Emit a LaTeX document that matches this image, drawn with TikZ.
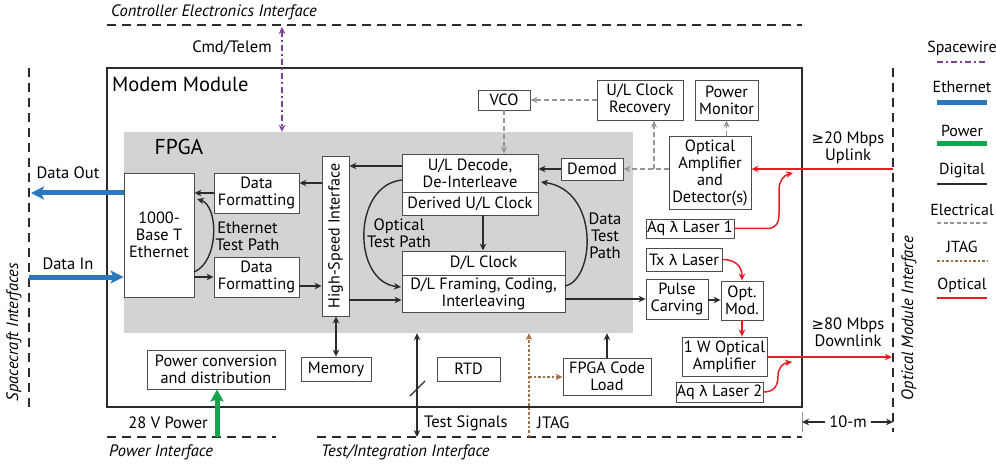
\documentclass[tikz,border=0pt]{standalone}
\usepackage{fontspec}
\setmainfont{PT Sans}
\newfontfamily\symfont[Scale=0.9]{DejaVu Sans}
\usetikzlibrary{arrows.meta,calc}
\newcommand\mylam{{\symfont λ}}
\newcommand\mygeq{{\symfont ≥}}
\definecolor{fpgagray}{HTML}{D1D3D4}
\definecolor{linec}{HTML}{2B2B2B}
\definecolor{boxc}{HTML}{4D4D4D}
\definecolor{ethblue}{HTML}{2B78BE}
\definecolor{pwrgreen}{HTML}{13A54B}
\definecolor{swpurple}{HTML}{7D3F98}
\definecolor{elgray}{HTML}{939598}
\definecolor{jtagbrown}{HTML}{A0714B}
\definecolor{optred}{HTML}{ED1C24}
\tikzset{
  box/.style={draw=boxc, fill=white, line width=0.9pt, inner sep=0pt, align=center,
    font=\fontsize{16.3}{17}\selectfont},
  lbl/.style={inner sep=0pt, align=center, font=\fontsize{16.5}{17}\selectfont},
  lgl/.style={inner sep=0pt, align=center, font=\fontsize{16}{17}\selectfont},
  ilabel/.style={inner sep=0pt, font=\fontsize{16.5}{18}\selectfont\itshape},
  iface/.style={draw=linec, line width=1.3pt, dash pattern=on 9pt off 6pt},
  dig/.style={draw=linec, line width=1.4pt, -{Stealth[length=7pt,width=6.5pt]}},
  digb/.style={draw=linec, line width=1.4pt, {Stealth[length=7pt,width=6.5pt]}-{Stealth[length=7pt,width=6.5pt]}},
  ele/.style={draw=elgray, line width=1.3pt, dash pattern=on 5pt off 3pt, -{Stealth[length=7pt,width=6pt]}},
  jtagl/.style={draw=jtagbrown, line width=1.4pt, dash pattern=on 2.5pt off 2pt, -{Stealth[length=7pt,width=6.5pt]}},
  opt/.style={draw=optred, line width=1.5pt, -{Stealth[length=7pt,width=6.5pt]}},
  swl/.style={draw=swpurple, line width=1.4pt, dash pattern=on 6pt off 3pt on 2pt off 3pt,
    {Stealth[length=7pt,width=6.5pt]}-{Stealth[length=7pt,width=6.5pt]}},
  ethl/.style={draw=ethblue, line width=5pt, -{Stealth[length=13pt,width=13pt,inset=3pt]}},
  pwrl/.style={draw=pwrgreen, line width=5pt, -{Stealth[length=12pt,width=13pt,inset=2pt]}},
}
\begin{document}
\begin{tikzpicture}[x=1pt,y=-1pt]
\useasboundingbox (0,0) rectangle (996,465);

% ---------- interfaces ----------
\coordinate (ceL) at (107,25); \coordinate (ceR) at (802,25);
\draw[iface] (ceL) -- (ceR);
\node[ilabel, anchor=west] (celbl) at (111,12) {Controller Electronics Interface};
\coordinate (scT) at (29,68); \coordinate (scB) at (29,407);
\draw[iface] (scT) -- (scB);
\node[ilabel, rotate=90] (sclbl) at (14,332) {Spacecraft Interfaces};
\coordinate (omT) at (893,68); \coordinate (omB) at (893,432);
\draw[iface] (omT) -- (omB);
\node[ilabel, rotate=90] (omlbl) at (909,318) {Optical Module Interface};
\coordinate (piL) at (107,437); \coordinate (piR) at (276,437);
\draw[iface] (piL) -- (piR);
\node[ilabel, anchor=west] (pilbl) at (109,452) {Power Interface};
\coordinate (tiL) at (317,437); \coordinate (tiR) at (802,437);
\draw[iface] (tiL) -- (tiR);
\node[ilabel, anchor=west] (tilbl) at (321,452) {Test/Integration Interface};

% ---------- modem + fpga ----------
\node[draw=linec, line width=1.8pt, minimum width=695pt, minimum height=339pt, inner sep=0pt] (mm) at (454.5,237.5) {};
\node[anchor=west, inner sep=0pt, font=\fontsize{20.5}{22}\selectfont] (mmlbl) at (112,84) {Modem Module};
\node[fill=fpgagray, minimum width=509pt, minimum height=201pt, inner sep=0pt] (fpga) at (378.5,232.5) {};
\node[inner sep=0pt, font=\fontsize{21.5}{23}\selectfont] (fpgalbl) at (179,147) {FPGA};

% ---------- boxes ----------
\node[box, minimum width=70pt, minimum height=124pt] (eth) at (159,235) {1000-\\Base T\\Ethernet};
\node[box, minimum width=85pt, minimum height=40pt] (df1) at (256.5,193) {Data\\Formatting};
\node[box, minimum width=85pt, minimum height=40pt] (df2) at (256.5,277) {Data\\Formatting};
\node[box, minimum width=27pt, minimum height=160pt] (hsi) at (335.5,236) {\rotatebox{90}{\fontsize{16}{17}\selectfont High-Speed Interface}};
\node[box, minimum width=136pt, minimum height=38pt] (uld) at (470,173) {U/L Decode,\\De-Interleave};
\node[box, minimum width=136pt, minimum height=23pt] (ulc) at (470,203.5) {Derived U/L Clock};
\node[box, minimum width=163pt, minimum height=24pt] (dlc) at (483.5,263) {D/L Clock};
\node[box, minimum width=163pt, minimum height=37pt] (dlf) at (483.5,293.5) {D/L Framing, Coding,\\Interleaving};
\node[box, minimum width=62pt, minimum height=22pt] (demod) at (592,169) {Demod};
\node[box, minimum width=82pt, minimum height=73pt] (oad) at (710,172.5) {Optical\\Amplifier\\and\\Detector(s)};
\node[box, minimum width=86pt, minimum height=40pt] (ulcr) at (640,100) {U/L Clock\\Recovery};
\node[box, minimum width=63pt, minimum height=40pt] (pm) at (726.5,100) {Power\\Monitor};
\node[box, minimum width=52pt, minimum height=20pt] (vco) at (504,100) {VCO};
\node[box, minimum width=88pt, minimum height=19pt] (aq1) at (690,228.5) {Aq \mylam{} Laser 1};
\node[box, minimum width=76pt, minimum height=23pt] (tx) at (684,259.5) {Tx \mylam{} Laser};
\node[box, minimum width=62pt, minimum height=40pt] (pc) at (677,299) {Pulse\\Carving};
\node[box, minimum width=42pt, minimum height=39pt] (om) at (742,300.5) {Opt.\\Mod.};
\node[box, minimum width=85pt, minimum height=39pt] (wamp) at (724.5,356.5) {1 W Optical\\Amplifier};
\node[box, minimum width=87pt, minimum height=20pt] (aq2) at (719.5,392) {Aq \mylam{} Laser 2};
\node[box, minimum width=88pt, minimum height=37pt] (fcl) at (607,376.5) {FPGA Code\\Load};
\node[box, minimum width=63pt, minimum height=24pt] (rtd) at (468.5,369) {RTD};
\node[box, minimum width=70pt, minimum height=24pt] (mem) at (336,369) {Memory};
\node[box, minimum width=138pt, minimum height=39pt] (pcd) at (216,369.5) {Power conversion\\and distribution};

% ---------- spacewire ----------
\coordinate (cmd) at (282,27);
\draw[swl] (cmd) -- (cmd |- fpga.north);
\node[lbl] (cmdlbl) at (232,48) {Cmd/Telem};

% ---------- ethernet ----------
\coordinate (doE) at (31,193);
\coordinate (diS) at (29,277);
\draw[ethl] (eth.west |- doE) -- (doE);
\draw[ethl] (diS) -- (diS -| eth.west);
\node[lbl] (dolbl) at (68,173) {Data Out};
\node[lbl] (dilbl) at (68,264) {Data In};

% ---------- power ----------
\coordinate (pw) at (217,437);
\draw[pwrl] (pw) -- (pw |- pcd.south);
\node[lbl, anchor=east] (pwlbl) at (208,423) {28 V Power};

% ---------- digital ----------
\draw[dig] (df1.west) -- (df1.west -| eth.east);
\draw[dig] (df2.west -| eth.east) -- (df2.west);
\draw[dig] (hsi.west |- 0,183) -- (df1.east |- 0,183);
\draw[dig] (df2.east |- 0,286) -- (hsi.west |- 0,286);
\draw[dig] (uld.west |- 0,166) -- (hsi.east |- 0,166);
\draw[dig] (hsi.east |- 0,300) -- (dlf.west |- 0,300);
\draw[dig] (ulc.south -| 483,0) -- (dlc.north -| 483,0);
\draw[dig] (demod.west) -- (demod.west -| uld.east);
\draw[dig] (dlf.east |- pc.west) -- (pc.west);
\draw[dig] (pc.east |- 0,300) -- (om.west |- 0,300);
\draw[digb] (hsi.south -| mem.north) -- (mem.north);
\draw[dig] (fcl.north) -- (fcl.north |- fpga.south);
\coordinate (ts) at (417,437);
\draw[digb] (ts) -- (ts |- fpga.south);
\coordinate (sl1) at (410,396); \coordinate (sl2) at (425,381);
\draw[linec, line width=1.2pt] (sl1) -- (sl2);
\node[lbl, anchor=west] (tslbl) at (424,423) {Test Signals};

% test paths
\draw[dig] (194,272) .. controls (219,262) and (219,206) .. (197,199);
\node[lbl] (etplbl) at (247.5,236.5) {Ethernet\\Test Path};
\draw[dig] (402,180) .. controls (352,185) and (352,282) .. (401,287);
\node[lbl] (otplbl) at (399,233.5) {Optical\\Test Path};
\draw[dig] (565,286) .. controls (595,280) and (600,190) .. (541,182);
\node[lbl] (dtplbl) at (605,236) {Data\\Test\\Path};

% ---------- electrical ----------
\draw[ele] (oad.west |- demod.east) -- (demod.east);
\coordinate (br) at (654,169);
\draw[ele] (br) -- (br |- ulcr.south);
\draw[ele] (pm.south |- oad.north) -- (pm.south);
\draw[ele] (ulcr.west) -- (vco.east);
\draw[ele] (vco.south) -- (vco.south |- uld.north);

% ---------- JTAG ----------
\coordinate (jt) at (529,437);
\coordinate (jtb) at (529,377);
\draw[jtagl] (jt) -- (jt |- fpga.south);
\draw[jtagl] (jtb) -- (jtb -| fcl.west);
\node[lbl, anchor=west] (jtlbl) at (537,423) {JTAG};

% ---------- optical ----------
\coordinate (ul) at (893,169);
\draw[opt] (ul) -- (ul -| oad.east);
\node[lbl] (ullbl) at (848,148) {\mygeq20 Mbps\\Uplink};
\coordinate (dl) at (892,357);
\draw[opt] (wamp.east |- dl) -- (dl);
\node[lbl] (dllbl) at (848,332) {\mygeq80 Mbps\\Downlink};
\coordinate (a1) at (793,173);
\draw[opt] (aq1.east) -- (767,228.5) .. controls (776,228.5) and (779,223) .. (779,214) -- (779,190) .. controls (779,181) and (784,175) .. (a1);
\coordinate (a2) at (792,362);
\draw[opt] (aq2.east) .. controls (774,392) and (778,386) .. (778,376) .. controls (778,368) and (783,363) .. (a2);
\draw[opt] (tx.east) .. controls (735,259.5) and (742,266) .. (om.north);
\draw[opt] (om.south) -- (om.south |- wamp.north);

% ---------- 10-m ----------
\coordinate (dmL) at (802,412); \coordinate (dmLb) at (802,432);
\draw[elgray, line width=1pt] (dmL) -- (dmLb);
\node[lbl] (dmlbl) at (848,422) {10-m};
\draw[dig, line width=1.1pt] (dmlbl.west) ++(-4,0) coordinate (dmA) -- (dmA -| dmL);
\draw[dig, line width=1.1pt] (dmlbl.east) ++(4,0) coordinate (dmB) -- (dmB -| omB);

% ---------- legend ----------
\node[lgl] (lg1) at (962,48) {Spacewire};
\draw[draw=swpurple, line width=1.4pt, dash pattern=on 6pt off 3pt on 2pt off 3pt] (937,62) coordinate (l1a) -- (987,62) coordinate (l1b);
\node[lgl] (lg2) at (962,87) {Ethernet};
\draw[ethblue, line width=5pt] (937,103) coordinate (l2a) -- (987,103) coordinate (l2b);
\node[lgl] (lg3) at (962,131) {Power};
\draw[pwrgreen, line width=5pt] (937,144) coordinate (l3a) -- (987,144) coordinate (l3b);
\node[lgl] (lg4) at (962,171) {Digital};
\draw[linec, line width=1.4pt] (937,184) coordinate (l4a) -- (987,184) coordinate (l4b);
\node[lgl] (lg5) at (962,210) {Electrical};
\draw[elgray, line width=1.3pt, dash pattern=on 4pt off 2.5pt] (937,223) coordinate (l5a) -- (987,223) coordinate (l5b);
\node[lgl] (lg6) at (962,247) {JTAG};
\draw[jtagbrown, line width=1.4pt, dash pattern=on 2.5pt off 2pt] (937,261) coordinate (l6a) -- (987,261) coordinate (l6b);
\node[lgl] (lg7) at (962,285) {Optical};
\draw[optred, line width=1.5pt] (937,298) coordinate (l7a) -- (987,298) coordinate (l7b);
\end{tikzpicture}
\end{document}
